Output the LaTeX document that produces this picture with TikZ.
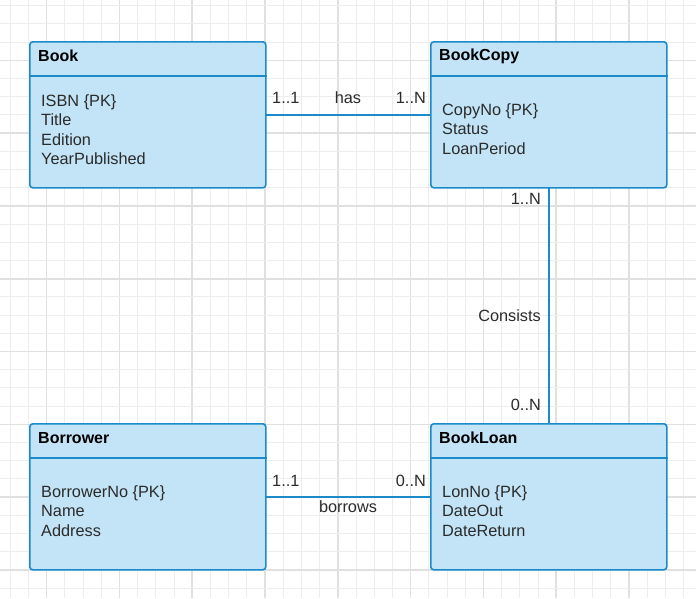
\documentclass[tikz,border=0pt]{standalone}
\usepackage{fontspec}
\setmainfont{Liberation Sans}
\definecolor{boxfill}{HTML}{C2E4F6}
\definecolor{boxline}{HTML}{1A8AC8}
\definecolor{txt}{HTML}{2B2B2B}
\definecolor{gridminor}{HTML}{EDEDED}
\definecolor{gridmajor}{HTML}{E0E0E0}
\tikzset{
  entity/.style={draw=boxline, fill=boxfill, line width=1.6pt, rounded corners=3pt,
    minimum width=236pt, minimum height=146pt, anchor=north west, inner sep=0pt},
  divider/.style={draw=boxline, line width=1.6pt},
  conn/.style={draw=boxline, line width=1.6pt},
  title/.style={font=\fontsize{16}{19}\selectfont\bfseries, text=black, anchor=west, inner sep=0pt},
  attr/.style={font=\fontsize{16.3}{19.5}\selectfont, text=txt, anchor=west, align=left, inner sep=0pt},
  lbl/.style={font=\fontsize{16.3}{19}\selectfont, text=txt, inner sep=0pt},
  gminor/.style={draw=gridminor, line width=1pt},
  gmajor/.style={draw=gridmajor, line width=1.6pt}
}
\begin{document}
\begin{tikzpicture}[x=1pt,y=-1pt]
\useasboundingbox (0,0) rectangle (696,598);
\fill[white] (0,0) rectangle (696,598);
% grid
\foreach \i in {0,...,38} {
  \pgfmathsetmacro{\xx}{10.2+18.2*\i}
  \pgfmathtruncatemacro{\m}{mod(\i,4)}
  \ifnum\m=2 \draw[gmajor] (\xx,0) -- (\xx,598); \else \draw[gminor] (\xx,0) -- (\xx,598); \fi
}
\foreach \j in {0,...,33} {
  \pgfmathsetmacro{\yy}{5.7+18.2*\j}
  \pgfmathtruncatemacro{\m}{mod(\j,4)}
  \ifnum\m=3 \draw[gmajor] (0,\yy) -- (696,\yy); \else \draw[gminor] (0,\yy) -- (696,\yy); \fi
}
% connectors
\node[entity, draw=none, fill=none] (book) at (29,41) {};
\node[entity, draw=none, fill=none] (copy) at (430,41) {};
\node[entity, draw=none, fill=none] (borrower) at (29,423) {};
\node[entity, draw=none, fill=none] (loan) at (430,423) {};
\draw[conn] (book.center) -- (copy.center);
\draw[conn] (copy.center) -- (loan.center);
\draw[conn] (borrower.center) -- (loan.center);
% entities
\node[entity] (bookbox) at (29,41) {};
\node[entity] (copybox) at (430,41) {};
\node[entity] (borrowerbox) at (29,423) {};
\node[entity] (loanbox) at (430,423) {};
\draw[divider] ([yshift=-35pt]bookbox.north west) -- ([yshift=-35pt]bookbox.north east);
\draw[divider] ([yshift=-35pt]copybox.north west) -- ([yshift=-35pt]copybox.north east);
\draw[divider] ([yshift=-35pt]borrowerbox.north west) -- ([yshift=-35pt]borrowerbox.north east);
\draw[divider] ([yshift=-35pt]loanbox.north west) -- ([yshift=-35pt]loanbox.north east);
% titles
\node[title] (t1) at (38,56) {Book};
\node[title] (t2) at (439,56) {BookCopy};
\node[title] (t3) at (38,438) {Borrower};
\node[title] (t4) at (439,438) {BookLoan};
% attributes
\node[attr] (a1) at (41,129.5) {ISBN \{PK\}\\Title\\Edition\\YearPublished};
\node[attr] (a2) at (442,129) {CopyNo \{PK\}\\Status\\LoanPeriod};
\node[attr] (a3) at (41,511) {BorrowerNo \{PK\}\\Name\\Address};
\node[attr] (a4) at (442,511) {LonNo \{PK\}\\DateOut\\DateReturn};
% labels
\node[lbl, anchor=west] (l1) at (272,98) {1..1};
\node[lbl] (l2) at (348,98) {has};
\node[lbl, anchor=east] (l3) at (426,98) {1..N};
\node[lbl, anchor=east] (l4) at (541,199) {1..N};
\node[lbl, anchor=east] (l5) at (541,316) {Consists};
\node[lbl, anchor=east] (l6) at (541,405) {0..N};
\node[lbl, anchor=west] (l7) at (272,481) {1..1};
\node[lbl, anchor=east] (l8) at (426,481) {0..N};
\node[lbl] (l9) at (348,507) {borrows};
\end{tikzpicture}
\end{document}
